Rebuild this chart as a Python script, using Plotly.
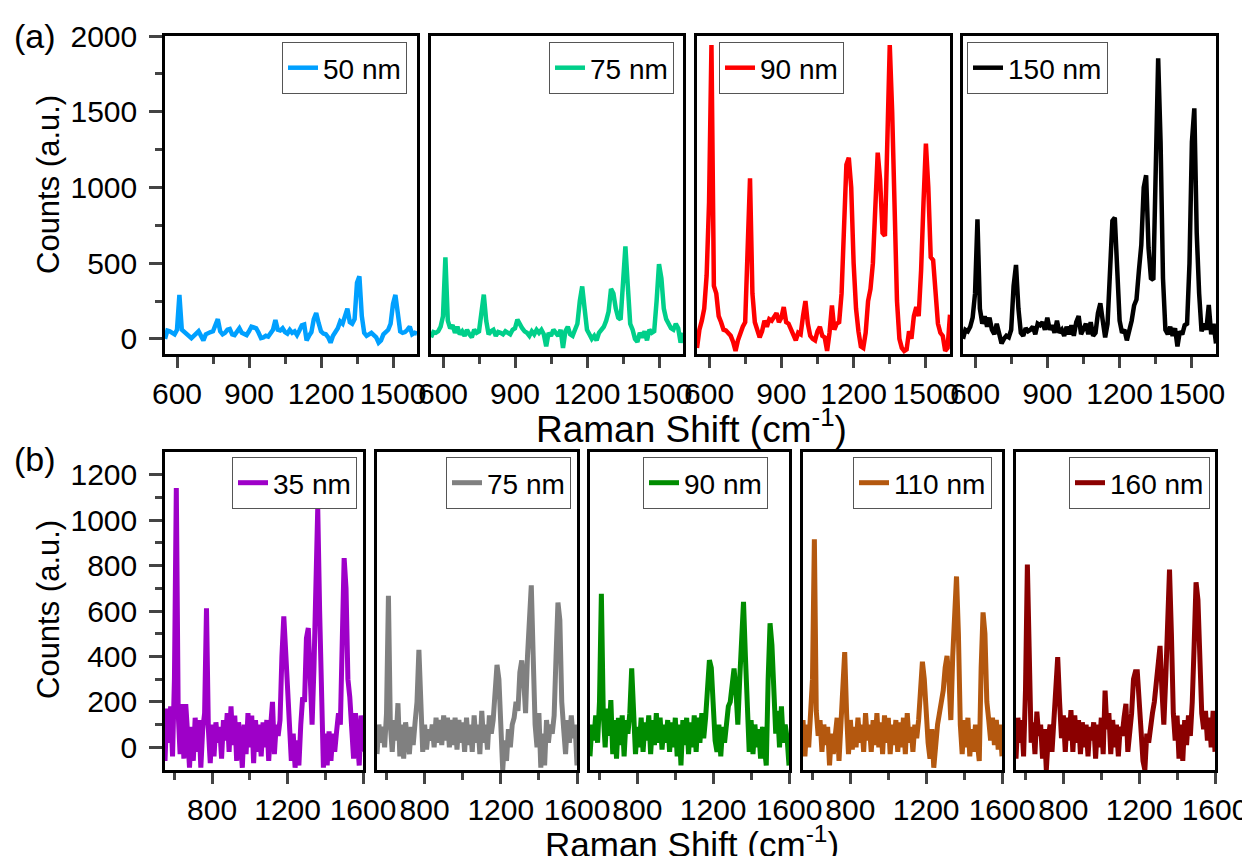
import plotly.graph_objects as go

# ---------------- data ----------------
raman_shift = list(range(550, 1601, 10))

top_labels = ["50 nm", "75 nm", "90 nm", "150 nm"]
top_colors = ["#00A0FF", "#00CF8A", "#FF0000", "#000000"]

counts_50nm = [
    0, 55, 50, 40, 30, 60, 290, 60, 45, 30,
    10, 5, 20, 40, 50, 20, -10, 30, 40, 45,
    50, 90, 130, 50, 30, 40, 60, 65, 30, 25,
    50, 70, 40, 35, 25, 50, 80, 75, 70, 40,
    5, 10, 20, 15, 45, 60, 125, 60, 55, 70,
    45, 35, 60, 40, 50, 25, 55, 90, 95, -10,
    20, 45, 130, 170, 105, 50, 35, 30, 10, -25,
    20, 40, 70, 115, 100, 150, 200, 110, 100, 130,
    370, 413, 150, 40, 20, 30, 40, 25, 10, -25,
    -10, 30, 50, 60, 100, 230, 290, 150, 50, 40,
    45, 60, 80, 30, 40, 35]

counts_75nm = [
    10, 45, 40, 50, 80, 150, 539, 120, 70, 90,
    40, 80, 30, 50, 20, 60, 30, 10, 60, 40,
    50, 180, 292, 120, 30, 50, 60, 20, 45, 40,
    30, 50, 40, 30, 60, 70, 127, 90, 70, 50,
    40, 20, 50, 30, 60, 40, 60, 30, -50, 40,
    20, 60, 40, 20, 60, -60, 50, 80, 30, 20,
    60, 100, 250, 346, 200, 60, 30, 0, 20, -10,
    40, 60, 80, 120, 180, 330, 300, 200, 140, 127,
    400, 610, 350, 100, 60, 0, -20, 40, 10, 50,
    -10, 60, 40, 50, 250, 494, 400, 200, 130, 90,
    70, 60, 100, 70, -25, 40]

counts_90nm = [
    -60, 60, 120, 200, 420, 900, 1940, 350, 300, 150,
    110, 60, 55, 40, 20, -20, -80, -10, 40, 80,
    110, 500, 1060, 300, 110, 60, 10, 50, 120, 80,
    130, 120, 150, 170, 110, 140, 210, 110, 100, 60,
    20, -10, 40, 30, 150, 250, 100, 20, 0, -10,
    50, 80, 20, 10, -80, 40, 220, 60, 100, 110,
    300, 700, 1150, 1197, 1000, 500, 200, 50, -50, -60,
    40, 250, 330, 500, 900, 1230, 1050, 700, 680, 1300,
    1940, 1500, 700, 250, 0, -60, -80, -70, 50, 0,
    150, 210, 150, 450, 900, 1290, 1000, 540, 520, 280,
    100, 40, 20, -80, -60, 160]

counts_150nm = [
    0, 60, 50, 80, 140, 300, 790, 200, 100, 150,
    80, 140, 60, 30, 100, 20, -30, 0, 20, 10,
    60, 350, 488, 200, 40, 20, 70, 50, 60, 80,
    30, 100, 90, 110, 60, 140, 60, 90, 40, 120,
    40, 60, 20, 80, 30, 90, 20, 110, 150, 30,
    60, 100, 30, 110, 20, 40, 170, 235, 120, 10,
    100, 400, 780, 800, 500, 120, 40, 60, -10, 50,
    120, 220, 260, 450, 620, 1000, 1080, 600, 400, 390,
    1000, 1853, 1300, 400, 60, 30, 80, 20, 70, -50,
    50, 30, 90, 100, 500, 1300, 1522, 700, 300, 50,
    100, 60, 224, 30, 100, -30]

bottom_labels = ["35 nm", "75 nm", "90 nm", "110 nm", "160 nm"]
bottom_colors = ["#9E00C8", "#808080", "#008C00", "#B4580F", "#8B0000"]

counts_35nm = [
    -60, 170, 20, 180, -40, 300, 1141, 150, -30, 190,
    -50, 190, 60, -90, 90, -60, 130, -20, 120, -90,
    80, 150, 612, 80, -70, 100, -40, 110, 20, 90,
    -50, 120, 30, 150, -20, 180, 10, 140, -60, 110,
    40, -90, 100, -30, 150, 0, 140, -70, 120, -20,
    100, -40, 110, 0, 120, -60, 90, 200, -30, 100,
    50, 120, 400, 576, 420, 250, 80, -60, 60, -90,
    30, -80, 100, 220, 200, 480, 525, 300, 100, 350,
    800, 1053, 600, 150, -90, 60, -80, 70, -60, 60,
    -20, 70, 150, 100, 500, 833, 700, 300, 220, 100,
    -50, 150, 30, -80, 140, -20]

counts_75nm_b = [
    -30, 100, 20, 90, 0, 150, 667, 100, -20, 120,
    30, 194, -40, 100, -50, 110, 40, -30, 90, 10,
    110, 200, 429, 150, -20, 100, -10, 80, 30, 100,
    0, 130, 20, 120, 10, 140, 30, 130, 0, 120,
    10, 130, -10, 120, 20, 110, -20, 130, 10, 100,
    -20, 140, 20, 100, -30, 160, 20, 100, -10, 140,
    60, 120, 250, 363, 300, 100, -100, 30, -60, 80,
    0, 100, 130, 200, 160, 330, 382, 300, 150, 400,
    600, 713, 400, 100, 0, 150, -90, 60, -80, 120,
    20, 100, 60, 140, 400, 637, 560, 200, 80, -30,
    120, 20, 140, 40, 100, -80]

counts_90nm_b = [
    -40, 100, 30, 140, 20, 200, 676, 150, 0, 170,
    50, 208, -30, 120, -50, 130, 10, 140, -40, 120,
    60, 150, 347, 120, -30, 90, 0, 130, -20, 110,
    30, 140, -30, 120, 10, 150, 20, 130, -10, 100,
    20, 120, -20, 110, 0, 130, -40, 100, -80, 120,
    10, 130, -30, 110, 0, 140, -20, 130, 20, 150,
    40, 130, 250, 384, 350, 150, 30, -20, 100, -40,
    90, 20, 130, 180, 200, 300, 347, 250, 100, 300,
    500, 640, 400, 100, -20, 120, -30, 100, 0, 80,
    -50, 90, 20, -80, 300, 546, 450, 180, 60, 160,
    0, 180, 20, 100, 40, -80]

counts_110nm = [
    120, -40, 100, 0, 150, 300, 916, 160, 50, 120,
    -20, 100, 10, 90, -80, 60, -30, 80, 130, -60,
    80, 200, 419, 150, -30, 120, -10, 90, 0, 130,
    20, 100, -20, 150, 30, 100, -20, 120, 10, 150,
    0, 110, -30, 140, 20, 130, -30, 100, 10, 120,
    -20, 110, 0, 130, -30, 150, 20, 90, -20, 100,
    40, 120, 250, 377, 300, 120, 20, -50, 80, -90,
    50, 100, 150, 200, 250, 350, 402, 300, 120, 400,
    600, 752, 500, 100, -30, 120, 0, 130, -40, 80,
    -20, 100, 20, -60, 350, 594, 500, 200, 120, 30,
    130, 10, 120, -10, 100, -40]

counts_160nm = [
    -50, 130, 20, 120, -40, 250, 804, 300, 20, 110,
    -30, 157, 50, 100, -50, 80, -100, 40, 100, -20,
    110, 250, 397, 200, 40, 140, -20, 130, 30, 164,
    -20, 140, 20, 120, -30, 110, 0, 100, -40, 90,
    30, 110, -50, 100, 0, 130, -30, 250, 80, 150,
    -30, 120, 0, 100, -40, 90, 50, 130, 191, -20,
    60, 150, 300, 333, 333, 200, 40, -60, -100, 60,
    20, 110, 150, 200, 280, 400, 446, 250, 100, 300,
    550, 782, 500, 150, 30, 140, -50, 100, -60, 120,
    10, 140, 50, 200, 450, 726, 650, 300, 150, 80,
    160, 30, 130, 0, 160, -20]

top_series = [counts_50nm, counts_75nm, counts_90nm, counts_150nm]
bottom_series = [counts_35nm, counts_75nm_b, counts_90nm_b, counts_110nm, counts_160nm]

top_xticks = [600, 900, 1200, 1500]
bottom_xticks = [800, 1200, 1600]

# ---------------- layout geometry (pixels in the 1250x864 window) ----------------
PAGE_W, PAGE_H = 1250, 864
OFF = 8                      # default body margin of the html page
W, H = PAGE_W - 2 * OFF, PAGE_H - 2 * OFF
FONT = "Arial, 'Liberation Sans', sans-serif"

top_px = [(165, 417), (431, 683), (697, 950), (963, 1216)]
top_y = (36, 354)
bot_px = [(165, 363), (377, 577), (590, 789), (803, 1002), (1016, 1215)]
bot_y = (452, 770)

# legend boxes: (anchor x px, top y px, xanchor)
top_leg = [(407, 42, "right"), (674, 42, "right"), (719, 42, "left"), (967, 42, "left")]
bot_leg = [(357, 457, "right"), (571, 457, "right"), (768, 457, "right"),
           (992, 457, "right"), (1210, 457, "right")]


def fx(px):
    return (px - OFF) / W


def fy(py):
    return 1 - (py - OFF) / H


fig = go.Figure()
layout = dict(
    width=W, height=H,
    margin=dict(l=0, r=0, t=0, b=0, autoexpand=False),
    paper_bgcolor="white", plot_bgcolor="white",
    font=dict(family=FONT, size=30, color="black"),
    showlegend=True,
)

axis_common = dict(showline=True, mirror=True, linecolor="black", linewidth=2.5,
                   showgrid=False, zeroline=False, automargin=False)

k = 0
for row, (series, labels, colors, pxs, ypx, legs) in enumerate([
        (top_series, top_labels, top_colors, top_px, top_y, top_leg),
        (bottom_series, bottom_labels, bottom_colors, bot_px, bot_y, bot_leg)]):
    for i, (ys, lab, col) in enumerate(zip(series, labels, colors)):
        k += 1
        sfx = "" if k == 1 else str(k)
        leg = "legend" if k == 1 else "legend" + str(k)
        fig.add_trace(go.Scatter(
            x=raman_shift, y=ys, mode="lines", name=lab,
            line=dict(color=col, width=4.5 if row == 0 else 5),
            xaxis="x" + sfx, yaxis="y" + sfx, legend=leg))
        if row == 0:
            xax = dict(range=[550, 1600], tickmode="array", tickvals=top_xticks,
                       minor=dict(tickvals=[750, 1050, 1350], ticks="outside",
                                  ticklen=7, tickwidth=2.5))
            yrange = [-100, 2000]
            ymaj = [0, 500, 1000, 1500, 2000]
            ymin = [250, 750, 1250, 1750]
        else:
            xax = dict(range=[550, 1600], tickmode="array", tickvals=bottom_xticks,
                       minor=dict(tickvals=[600, 1000, 1400], ticks="outside",
                                  ticklen=7, tickwidth=2.5))
            yrange = [-100, 1300]
            ymaj = [0, 200, 400, 600, 800, 1000, 1200]
            ymin = [100, 300, 500, 700, 900, 1100]
        xax.update(axis_common)
        a, b = pxs[i]
        xax.update(domain=[fx(a), fx(b)], anchor="y" + sfx,
                   ticks="outside", ticklen=11, tickwidth=2.5,
                   tickfont=dict(size=30), ticklabeloverflow="allow")
        yax = dict(axis_common)
        t, bt = ypx
        yax.update(domain=[fy(bt), fy(t)], anchor="x" + sfx, range=yrange)
        if i == 0:
            yax.update(tickmode="array", tickvals=ymaj, ticks="outside",
                       ticklen=13, tickwidth=2.5, tickfont=dict(size=30),
                       ticklabelstandoff=6,
                       minor=dict(tickvals=ymin, ticks="outside", ticklen=7, tickwidth=2.5))
        else:
            yax.update(showticklabels=False, ticks="")
        layout["xaxis" + sfx] = xax
        layout["yaxis" + sfx] = yax
        lx, ly, xa = legs[i]
        layout[leg] = dict(x=fx(lx), y=fy(ly), xanchor=xa, yanchor="top",
                           xref="paper", yref="paper", bgcolor="white",
                           bordercolor="#555555", borderwidth=1,
                           font=dict(size=28, family=FONT))

annotations = [
    dict(text="Counts (a.u.)", x=fx(48), y=fy(185), textangle=-90,
         font=dict(size=31)),
    dict(text="Counts (a.u.)", x=fx(48), y=fy(610), textangle=-90,
         font=dict(size=31)),
    dict(text="Raman Shift (cm<sup>-1</sup>)", x=fx(692), y=fy(426),
         font=dict(size=37)),
    dict(text="Raman Shift (cm<sup>-1</sup>)", x=fx(692), y=fy(842),
         font=dict(size=35)),
    dict(text="(a)", x=fx(35), y=fy(36), font=dict(size=34)),
    dict(text="(b)", x=fx(35), y=fy(459), font=dict(size=34)),
]
for an in annotations:
    an.update(xref="paper", yref="paper", showarrow=False,
              xanchor="center", yanchor="middle")
layout["annotations"] = annotations

fig.update_layout(**layout)
fig.write_html("out.html")
